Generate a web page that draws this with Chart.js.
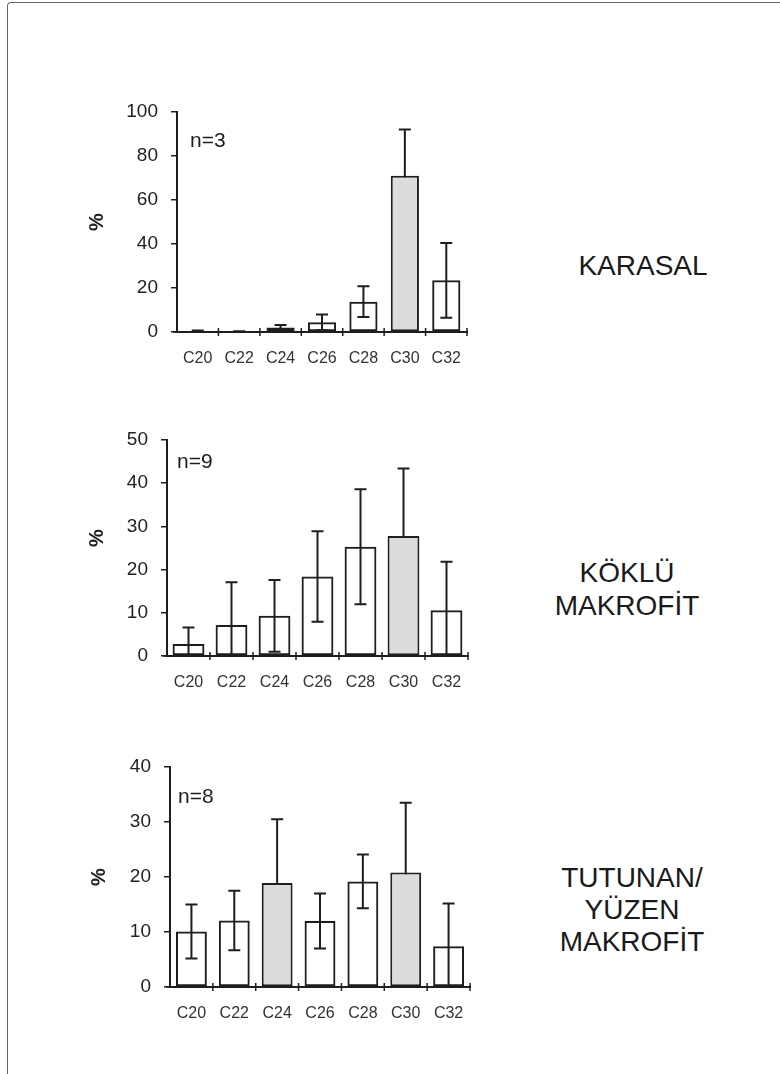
<!DOCTYPE html>
<html>
<head>
<meta charset="utf-8">
<script src="https://cdn.jsdelivr.net/npm/chart.js@4.4.1/dist/chart.umd.min.js"></script>
<style>
  html, body { margin: 0; padding: 0; background: #fff; }
  body { width: 780px; height: 1074px; position: relative; overflow: hidden;
         font-family: "Liberation Sans", Arial, sans-serif; }
  .frame { position: absolute; left: 7px; top: 2px; width: 800px; height: 1100px;
           border-left: 1.5px solid #666; border-top: 1.5px solid #666; border-top-left-radius: 4px; }
  canvas { position: absolute; }
  .group { position: absolute; width: 240px; text-align: center; font-size: 28px;
           line-height: 33px; color: #1a1a1a; }
</style>
</head>
<body>
<div class="frame"></div>

<canvas id="karasal" width="400" height="290" style="left:80px;top:95px;width:400px;height:290px"></canvas>
<canvas id="koklu" width="400" height="290" style="left:80px;top:420px;width:400px;height:290px"></canvas>
<canvas id="tutunan" width="400" height="290" style="left:80px;top:745px;width:400px;height:290px"></canvas>

<div class="group" style="left:523px;top:249px">KARASAL</div>
<div class="group" style="left:507px;top:556px">KÖKLÜ<br>MAKROFİT</div>
<div class="group" style="left:512px;top:862px;line-height:32px">TUTUNAN/<br>YÜZEN<br>MAKROFİT</div>

<script>
// Chain-length groups on the category axis
const categories = ['C20', 'C22', 'C24', 'C26', 'C28', 'C30', 'C32'];

// Terrestrial (KARASAL), n=3: mean % and standard deviation
const karasalMeans  = [0.4, 0.2, 2.0, 4.4, 13.8, 71.0, 23.5];
const karasalErrors = [0.3, 0.1, 1.2, 3.6, 7.0, 21.0, 17.0];
const karasalTicks  = [0, 20, 40, 60, 80, 100];
const karasalShaded = ['C30'];

// Rooted macrophytes (KÖKLÜ MAKROFİT), n=9
const kokluMeans  = [2.8, 7.2, 9.3, 18.4, 25.3, 27.8, 10.6];
const kokluErrors = [3.8, 9.9, 8.3, 10.5, 13.3, 15.6, 11.2];
const kokluTicks  = [0, 10, 20, 30, 40, 50];
const kokluShaded = ['C30'];

// Floating / submerged macrophytes (TUTUNAN/YÜZEN MAKROFİT), n=8
const tutunanMeans  = [10.1, 12.1, 18.9, 12.0, 19.2, 20.8, 7.4];
const tutunanErrors = [4.9, 5.4, 11.6, 5.0, 4.9, 12.7, 7.8];
const tutunanTicks  = [0, 10, 20, 30, 40];
const tutunanShaded = ['C24', 'C30'];

const sampleLabels = ['n=3', 'n=9', 'n=8'];

const FONT = '"Liberation Sans", Arial, sans-serif';
const INK = '#1e1e1e';

// Mean ± SD whiskers, drawn before the bars so filled bars cover the lower half
const errorBars = {
  id: 'errorBars',
  beforeDatasetsDraw(chart) {
    const errs = chart.options.plugins.errorBars.errors;
    const means = chart.data.datasets[0].data;
    const y = chart.scales.y;
    const meta = chart.getDatasetMeta(0);
    const ctx = chart.ctx;
    ctx.save();
    ctx.strokeStyle = INK;
    ctx.lineWidth = 2;
    meta.data.forEach((bar, i) => {
      const hi = means[i] + errs[i];
      const lo = Math.max(means[i] - errs[i], 0);
      const yHi = y.getPixelForValue(hi);
      const yLo = y.getPixelForValue(lo);
      const x = bar.x;
      ctx.beginPath();
      ctx.moveTo(x, yLo);
      ctx.lineTo(x, yHi);
      ctx.moveTo(x - 6, yHi);
      ctx.lineTo(x + 6, yHi);
      if (lo > 0) {
        ctx.moveTo(x - 6, yLo);
        ctx.lineTo(x + 6, yLo);
      }
      ctx.stroke();
    });
    ctx.restore();
  }
};

// Axis decorations: tick marks crossing the category axis, "%" title and n label
const panelText = {
  id: 'panelText',
  afterDraw(chart) {
    const opts = chart.options.plugins.panelText;
    const a = chart.chartArea;
    const ctx = chart.ctx;
    const n = categories.length;
    ctx.save();
    ctx.strokeStyle = INK;
    ctx.lineWidth = 1.5;
    ctx.beginPath();
    for (let i = 1; i <= n; i++) {
      const x = a.left + i * (a.right - a.left) / n;
      ctx.moveTo(x, a.bottom - 4);
      ctx.lineTo(x, a.bottom + 4);
    }
    ctx.moveTo(a.left - 4, a.bottom);
    ctx.lineTo(a.left, a.bottom);
    ctx.stroke();

    ctx.fillStyle = INK;
    ctx.font = 'bold 20px ' + FONT;
    ctx.textAlign = 'center';
    ctx.textBaseline = 'middle';
    ctx.translate(opts.titleX, (a.top + a.bottom) / 2 + opts.titleDy);
    ctx.rotate(-Math.PI / 2);
    ctx.fillText('%', 0, 0);
    ctx.setTransform(1, 0, 0, 1, 0, 0);

    ctx.font = '21px ' + FONT;
    ctx.textAlign = 'left';
    ctx.textBaseline = 'alphabetic';
    ctx.fillText(opts.label, a.left + opts.nDx, a.top + opts.nDy);
    ctx.restore();
  }
};

function makePanel(id, means, errors, ticks, shaded, label, geo) {
  const canvas = document.getElementById(id);
  const W = canvas.width, H = canvas.height;
  return new Chart(canvas, {
    type: 'bar',
    data: {
      labels: categories,
      datasets: [{
        data: means,
        backgroundColor: categories.map(c => shaded.includes(c) ? '#dcdcdc' : 'rgba(255,255,255,0)'),
        borderColor: INK,
        borderWidth: 2,
        borderSkipped: false,
        barPercentage: geo.barPct,
        categoryPercentage: 1
      }]
    },
    options: {
      responsive: false,
      animation: false,
      devicePixelRatio: 1,
      layout: { padding: { left: 0, top: geo.top, right: W - geo.right, bottom: 0 } },
      plugins: {
        legend: { display: false },
        tooltip: { enabled: false },
        errorBars: { errors: errors },
        panelText: { label: label, titleX: geo.titleX, titleDy: geo.titleDy, nDx: geo.nDx, nDy: geo.nDy }
      },
      scales: {
        x: {
          grid: { display: false, drawTicks: false },
          border: { display: true, color: INK, width: 2 },
          ticks: { color: '#333', font: { family: FONT, size: 16 }, padding: 17, maxRotation: 0 },
          afterFit(s) { s.height = H - geo.bottom; s.paddingLeft = 0; s.paddingRight = 0; }
        },
        y: {
          min: 0,
          max: ticks[ticks.length - 1],
          afterBuildTicks(s) { s.ticks = ticks.map(v => ({ value: v })); },
          grid: { drawOnChartArea: false, drawTicks: true, tickLength: 6, color: INK, lineWidth: 1.5 },
          border: { display: true, color: INK, width: 2 },
          ticks: { color: '#222', font: { family: FONT, size: 19 }, padding: 13 },
          afterFit(s) { s.width = geo.left; s.paddingTop = 0; s.paddingBottom = 0; }
        }
      }
    },
    plugins: [errorBars, panelText]
  });
}

makePanel('karasal', karasalMeans, karasalErrors, karasalTicks, karasalShaded, sampleLabels[0],
  { left: 97, right: 387, top: 17, bottom: 237, barPct: 0.68, titleX: 17.5, titleDy: 0, nDx: 13, nDy: 35 });
makePanel('koklu', kokluMeans, kokluErrors, kokluTicks, kokluShaded, sampleLabels[1],
  { left: 87, right: 388, top: 20, bottom: 236, barPct: 0.74, titleX: 17.5, titleDy: -10, nDx: 10, nDy: 28 });
makePanel('tutunan', tutunanMeans, tutunanErrors, tutunanTicks, tutunanShaded, sampleLabels[2],
  { left: 90, right: 390, top: 22, bottom: 242, barPct: 0.72, titleX: 19.5, titleDy: 0, nDx: 8, nDy: 36 });
</script>
</body>
</html>
